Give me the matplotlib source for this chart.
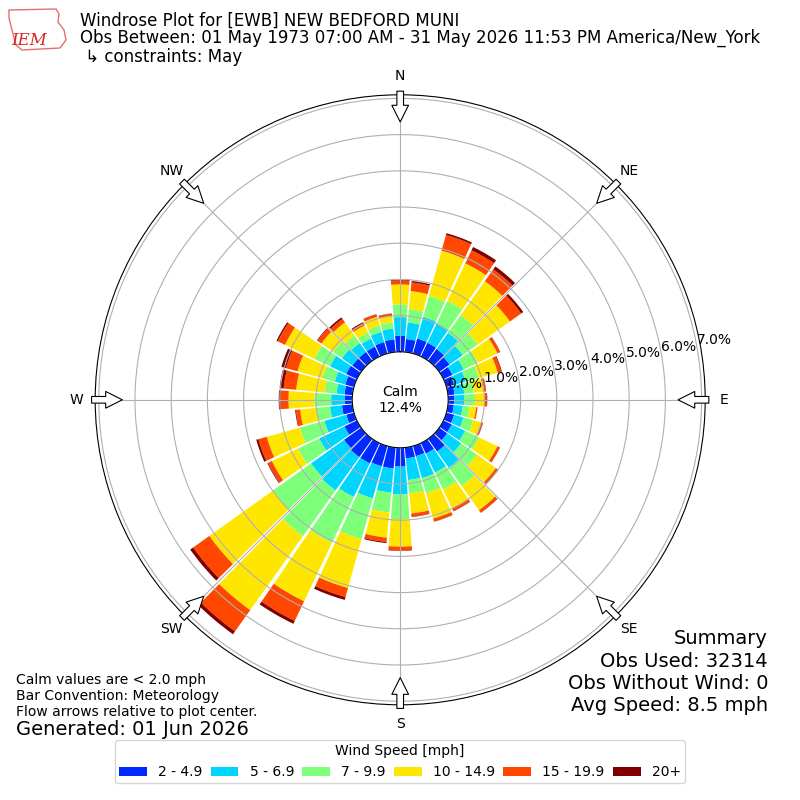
import numpy as np
import matplotlib
matplotlib.use("Agg")
import matplotlib.pyplot as plt
from matplotlib.patches import Polygon

# ---------------- data ----------------
directions = list(range(0, 360, 10))
speed_labels = ["2 - 4.9", "5 - 6.9", "7 - 9.9", "10 - 14.9", "15 - 19.9", "20+"]

pct_2_5 = [0.44, 0.36, 0.43, 0.42, 0.40, 0.35, 0.27, 0.22, 0.18, 0.17, 0.16, 0.22,
           0.25, 0.27, 0.43, 0.32, 0.29, 0.30, 0.52, 0.58, 0.58, 0.62, 0.62, 0.58,
           0.38, 0.22, 0.29, 0.20, 0.22, 0.25, 0.33, 0.30, 0.30, 0.30, 0.33, 0.35]
pct_5_7 = [0.52, 0.46, 0.62, 0.58, 0.55, 0.45, 0.35, 0.33, 0.27, 0.28, 0.25, 0.27,
           0.41, 0.47, 0.55, 0.58, 0.63, 0.60, 0.77, 0.67, 0.92, 1.03, 1.13, 1.12,
           0.77, 0.63, 0.33, 0.38, 0.22, 0.30, 0.49, 0.35, 0.30, 0.25, 0.29, 0.30]
pct_7_10 = [0.35, 0.37, 0.60, 0.70, 0.60, 0.50, 0.43, 0.37, 0.27, 0.29, 0.19, 0.28,
            0.43, 0.54, 0.62, 0.52, 0.43, 0.37, 0.68, 0.55, 1.17, 1.40, 1.55, 1.30,
            0.65, 0.70, 0.37, 0.46, 0.33, 0.35, 0.48, 0.30, 0.25, 0.18, 0.18, 0.17]
pct_10_15 = [0.55, 0.50, 1.30, 1.15, 1.15, 1.10, 0.60, 0.55, 0.26, 0.27, 0.18, 0.23,
             0.56, 0.64, 0.82, 0.58, 0.73, 0.56, 0.76, 0.70, 1.40, 1.79, 2.51, 2.15,
             0.80, 0.95, 0.46, 0.72, 0.79, 0.72, 0.90, 0.40, 0.45, 0.22, 0.25, 0.18]
pct_15_20 = [0.11, 0.24, 0.45, 0.40, 0.40, 0.38, 0.08, 0.10, 0.07, 0.06, 0.04, 0.04,
             0.07, 0.07, 0.08, 0.08, 0.08, 0.09, 0.11, 0.12, 0.26, 0.60, 0.72, 0.55,
             0.12, 0.24, 0.12, 0.22, 0.35, 0.33, 0.22, 0.13, 0.12, 0.07, 0.07, 0.06]
pct_20p = [0.03, 0.04, 0.05, 0.10, 0.10, 0.07, 0.01, 0.02, 0.01, 0.01, 0.00, 0.01,
           0.01, 0.01, 0.01, 0.01, 0.01, 0.01, 0.01, 0.03, 0.08, 0.09, 0.10, 0.10,
           0.02, 0.06, 0.02, 0.05, 0.11, 0.13, 0.04, 0.02, 0.05, 0.03, 0.01, 0.01]
series = [pct_2_5, pct_5_7, pct_7_10, pct_10_15, pct_15_20, pct_20p]

calm_pct = 12.4
r_ticks = [0, 1, 2, 3, 4, 5, 6, 7]
compass_angles = [0, 45, 90, 135, 180, 225, 270, 315]
compass_labels = ["N", "NE", "E", "SE", "S", "SW", "W", "NW"]

title_lines = [
    "Windrose Plot for [EWB] NEW BEDFORD MUNI",
    "Obs Between: 01 May 1973 07:00 AM - 31 May 2026 11:53 PM America/New_York",
    " \u21b3 constraints: May",
]
left_notes = ["Calm values are < 2.0 mph", "Bar Convention: Meteorology",
              "Flow arrows relative to plot center."]
generated = "Generated: 01 Jun 2026"
summary_lines = ["Summary", "Obs Used: 32314", "Obs Without Wind: 0",
                 "Avg Speed: 8.5 mph"]

# ---------------- figure ----------------
fig = plt.figure(figsize=(8, 8), dpi=100)
ax = fig.add_axes([0.119, 0.119, 0.7625, 0.7625], projection="polar")
ax.set_theta_zero_location("N")
ax.set_theta_direction(-1)

colors = plt.cm.jet(np.linspace(0, 1, 7)[1:])
theta = np.deg2rad(directions)
width = np.deg2rad(10) * 0.9
base = np.zeros(len(directions))
for vals, col, lab in zip(series, colors, speed_labels):
    vals = np.asarray(vals)
    ax.bar(theta, vals, width=width, bottom=base, color=col, label=lab,
           align="center", linewidth=0)
    base = base + vals

ax.set_rorigin(-1.326)
ax.set_ylim(0, 7.1)
ax.set_rgrids(r_ticks, labels=[f"{t:.1f}%" for t in r_ticks], angle=80)
ax.set_thetagrids(compass_angles, labels=compass_labels)
ax.tick_params(axis="x", pad=3, labelsize=10)
ax.tick_params(axis="y", labelsize=10)

ax.text(0.5, 0.5, f"Calm\n{calm_pct:.1f}%", transform=ax.transAxes,
        ha="center", va="center", fontsize=10)

for ang in compass_angles:
    ax.annotate("", xy=(np.deg2rad(ang), 6.35), xytext=(np.deg2rad(ang), 7.2),
                arrowprops=dict(arrowstyle="simple,head_length=1.0,head_width=1.0,tail_width=0.4",
                                fc="white", ec="black", lw=0.8,
                                shrinkA=0, shrinkB=0, mutation_scale=12),
                annotation_clip=False, zorder=5)

# ---------------- texts ----------------
for txt, yb in zip(title_lines, [25.5, 42.5, 61.5]):
    fig.text(0.1, 1 - yb / 800, txt, fontsize=12, va="baseline", ha="left")

# simple stand-in for the IEM logo
logo_px = [(9, 10), (56, 9), (59, 14), (58, 22), (64, 30), (66, 40), (60, 48),
           (22, 50), (16, 45), (12, 30), (9, 18)]
fig.patches.append(Polygon([(x / 800, 1 - y / 800) for x, y in logo_px],
                           closed=True, fill=False, ec="#e07070", lw=1.0,
                           transform=fig.transFigure, figure=fig))
fig.text(0.037, 1 - 45 / 800, "IEM", color="#d62728", fontsize=12,
         family="serif", style="italic", va="baseline", ha="center")

for txt, yc in zip(left_notes, [680, 696, 712]):
    fig.text(0.02, 1 - yc / 800, txt, fontsize=10, va="center", ha="left")
fig.text(0.02, 1 - 729.5 / 800, generated, fontsize=14, va="center", ha="left")

for txt, yc in zip(summary_lines, [639, 661.5, 683.5, 705.5]):
    fig.text(0.96, 1 - yc / 800, txt, fontsize=14, va="center", ha="right")

fig.legend(loc="lower center", bbox_to_anchor=(0.5, 0.012), ncol=6,
           title="Wind Speed [mph]", fontsize=10, title_fontsize=10,
           columnspacing=0.6, borderpad=0.3)

fig.savefig("out.png", dpi=100)
